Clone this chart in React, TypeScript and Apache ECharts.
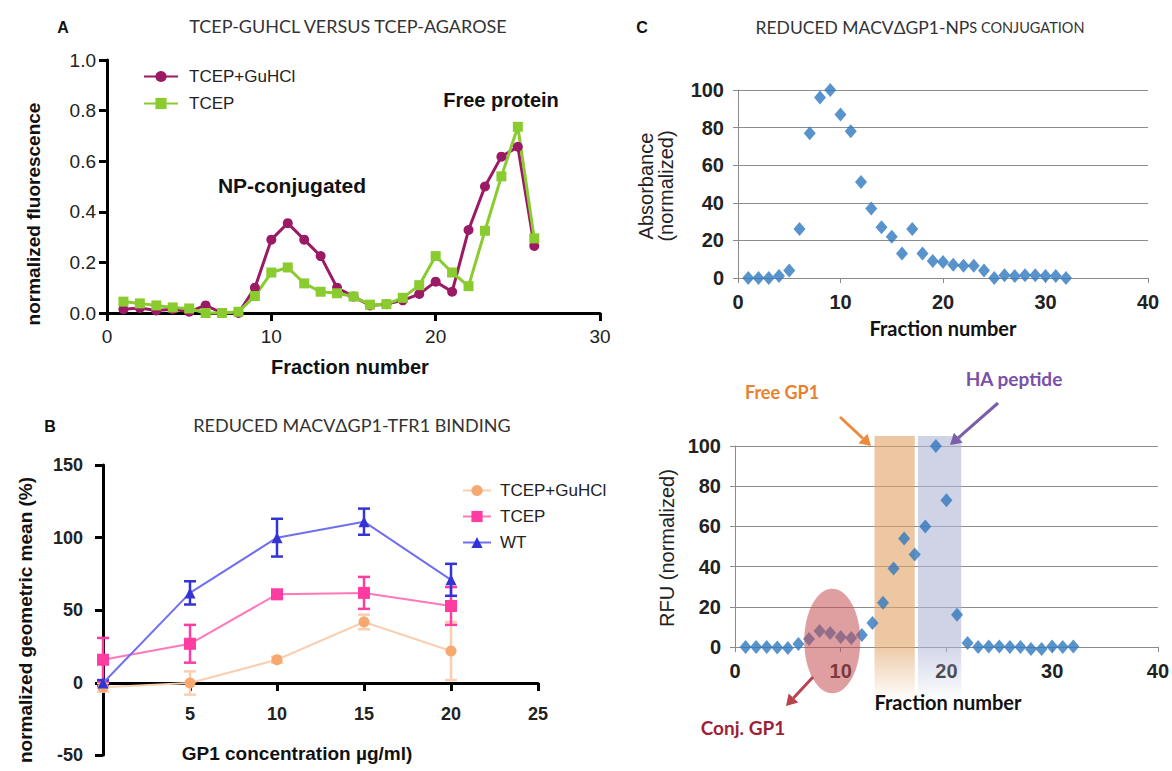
import React, { useEffect, useRef } from "react";
import * as echarts from "echarts";

// ---------- Panel A ----------
const fractionsA = [1, 2, 3, 4, 5, 6, 7, 8, 9, 10, 11, 12, 13, 14, 15, 16, 17, 18, 19, 20, 21, 22, 23, 24, 25, 26];
const tcepGuhclA = [0.015, 0.02, 0.01, 0.015, 0.005, 0.03, 0.0, 0.0, 0.1, 0.29, 0.355, 0.29, 0.225, 0.1, 0.065, 0.03, 0.035, 0.05, 0.075, 0.124, 0.084, 0.328, 0.5, 0.618, 0.657, 0.265];
const tcepA = [0.045, 0.038, 0.03, 0.022, 0.018, 0.0, 0.0, 0.005, 0.067, 0.16, 0.18, 0.117, 0.084, 0.078, 0.065, 0.033, 0.035, 0.06, 0.11, 0.225, 0.16, 0.106, 0.325, 0.54, 0.736, 0.295];

// ---------- Panel B ----------
const concB = [0, 5, 10, 15, 20];
const wtMean = [0, 62, 100, 111, 71];
const wtErr = [2, 8, 13, 9, 11];
const tcepMean = [16, 27, 61, 62, 53];
const tcepErr = [15, 13, 3, 11, 13];
const guhclMean = [-3, 0, 16, 42, 22];
const guhclErr = [3, 8, 2, 5, 20];

// ---------- Panel C ----------
const fractionsC = [1, 2, 3, 4, 5, 6, 7, 8, 9, 10, 11, 12, 13, 14, 15, 16, 17, 18, 19, 20, 21, 22, 23, 24, 25, 26, 27, 28, 29, 30, 31, 32];
const absorbanceC = [0, 0, 0, 1, 4, 26, 77, 96, 100, 87, 78, 51, 37, 27, 22, 13, 26, 13, 9, 8.5, 7, 6.5, 6.5, 4, 0, 1.5, 1, 1.5, 1.5, 1, 1, 0];
const rfuC = [0, 0, 0, -0.3, -0.5, 1.5, 4, 8, 7, 5, 4.5, 6, 12, 22, 39, 54, 46, 60, 100, 73, 16, 2, 0, 0.3, 0.3, 0, 0, -1, -1, 0.3, 0, 0.3];
const freeGp1Band = [13.2, 17.0];
const haPeptideBand = [17.3, 21.4];
const bandYRange = [105, -27];
const conjEllipse = { cx: 9.2, cy: 3, rx: 2.65, ry: 26 };

const SANS = "Liberation Sans, Arial, sans-serif";
const CAL = "Lato, Liberation Sans, sans-serif";

const COL_A_MAG = "#9b1a66";
const COL_A_GRN = "#8acc30";
const COL_B_WT = "#3434d6";
const COL_B_WT_L = "#7070ee";
const COL_B_TC = "#ff3ca2";
const COL_B_TC_L = "#ff78bb";
const COL_B_GU = "#f6a86e";
const COL_B_GU_L = "#f9cfb2";
const COL_C = "#2f78be";

function errSeries(name: string, means: number[], errs: number[], color: string) {
  return {
    type: "custom",
    name,
    xAxisIndex: 1,
    yAxisIndex: 1,
    clip: false,
    z: 3,
    data: concB.map((x, i) => [x, means[i] - errs[i], means[i] + errs[i]]),
    encode: { x: 0, y: [1, 2] },
    renderItem: (params: any, api: any) => {
      const x = api.value(0);
      const lo = api.coord([x, api.value(1)]);
      const hi = api.coord([x, api.value(2)]);
      const cap = 6;
      const style = { stroke: color, lineWidth: 2.5 };
      return {
        type: "group",
        children: [
          { type: "line", shape: { x1: lo[0], y1: lo[1], x2: hi[0], y2: hi[1] }, style },
          { type: "line", shape: { x1: lo[0] - cap, y1: lo[1], x2: lo[0] + cap, y2: lo[1] }, style },
          { type: "line", shape: { x1: hi[0] - cap, y1: hi[1], x2: hi[0] + cap, y2: hi[1] }, style },
        ],
      };
    },
  };
}

function blackAxis(extra: any) {
  return {
    type: "value",
    axisLine: { show: true, onZero: false, lineStyle: { color: "#000", width: 3 } },
    axisTick: { show: true, length: 8, lineStyle: { color: "#000", width: 3 } },
    splitLine: { show: false },
    ...extra,
  };
}

function grayXAxis(extra: any) {
  return {
    type: "value",
    min: 0,
    max: 40,
    interval: 10,
    axisLine: { show: true, lineStyle: { color: "#8a8a8a", width: 1 } },
    axisTick: { show: true, length: 5, lineStyle: { color: "#8a8a8a" } },
    axisLabel: { fontSize: 20, fontWeight: "bold", color: "#222", fontFamily: SANS, margin: 14 },
    splitLine: { show: false },
    ...extra,
  };
}
function grayYAxis(extra: any) {
  return {
    type: "value",
    min: 0,
    max: 100,
    interval: 20,
    axisLine: { show: true, lineStyle: { color: "#8a8a8a", width: 1 } },
    axisTick: { show: true, length: 5, lineStyle: { color: "#8a8a8a" } },
    axisLabel: { fontSize: 20, fontWeight: "bold", color: "#222", fontFamily: SANS, margin: 14 },
    splitLine: { show: true, lineStyle: { color: "#8c8c8c", width: 1 } },
    ...extra,
  };
}

function txt(text: string, x: number, y: number, font: string, fill: string, rotation = 0, z = 30) {
  return {
    type: "text",
    x,
    y,
    rotation,
    z,
    style: { text, font, fill, align: "center", verticalAlign: "middle", textAlign: "center", textVerticalAlign: "middle" },
  };
}

function arrow(x1: number, y1: number, x2: number, y2: number, color: string) {
  const head = 11;
  const ang = Math.atan2(y2 - y1, x2 - x1);
  const bx = x2 - head * Math.cos(ang);
  const by = y2 - head * Math.sin(ang);
  const px = -Math.sin(ang) * head * 0.6;
  const py = Math.cos(ang) * head * 0.6;
  return [
    { type: "line", z: 25, shape: { x1, y1, x2: bx, y2: by }, style: { stroke: color, lineWidth: 3 } },
    { type: "polygon", z: 25, shape: { points: [[x2, y2], [bx + px, by + py], [bx - px, by - py]] }, style: { fill: color } },
  ];
}

export default function App() {
  const ref = useRef<HTMLDivElement>(null);
  useEffect(() => {
    document.body.style.margin = "0";
    const chart = echarts.init(ref.current!, null, { renderer: "svg" });
    const option: any = {
      animation: false,
      backgroundColor: "#fff",
      grid: [
        { left: 107, top: 60, width: 493, height: 253 },
        { left: 103, top: 465, width: 435, height: 218 },
        { left: 738, top: 90, width: 410, height: 188 },
        { left: 735, top: 446, width: 423, height: 201 },
        { left: 103, top: 683, width: 435, height: 72 },
      ],
      xAxis: [
        blackAxis({
          gridIndex: 0, min: 0, max: 30, interval: 10,
          axisLabel: { fontSize: 19, color: "#222", fontFamily: SANS, margin: 14 },
        }),
        blackAxis({
          gridIndex: 1, min: 0, max: 25, interval: 5,
          axisLabel: { fontSize: 18, fontWeight: "bold", color: "#222", fontFamily: SANS, margin: 22, showMinLabel: false },
        }),
        grayXAxis({ gridIndex: 2 }),
        grayXAxis({ gridIndex: 3 }),
        {
          type: "value", gridIndex: 4, min: 0, max: 25, show: false,
        },
      ],
      yAxis: [
        blackAxis({
          gridIndex: 0, min: 0, max: 1, interval: 0.2,
          axisLabel: { fontSize: 19, color: "#222", fontFamily: SANS, margin: 11, formatter: (v: number) => v.toFixed(1) },
        }),
        blackAxis({
          gridIndex: 1, min: 0, max: 150, interval: 50,
          axisLabel: { fontSize: 18, fontWeight: "bold", color: "#222", fontFamily: SANS, margin: 20 },
        }),
        grayYAxis({ gridIndex: 2 }),
        grayYAxis({ gridIndex: 3 }),
        blackAxis({
          gridIndex: 4, min: -50, max: 0, interval: 50,
          axisLabel: { fontSize: 18, fontWeight: "bold", color: "#222", fontFamily: SANS, margin: 20, showMaxLabel: false },
        }),
      ],
      legend: [
        {
          data: ["A|TCEP+GuHCl", "A|TCEP"],
          orient: "vertical",
          left: 138,
          top: 63,
          itemWidth: 34,
          itemHeight: 14,
          itemGap: 10,
          selectedMode: false,
          formatter: (n: string) => n.split("|")[1],
          textStyle: { fontSize: 17, color: "#222", fontFamily: SANS, padding: [0, 0, 0, 6] },
        },
        {
          data: ["B|TCEP+GuHCl", "B|TCEP", "B|WT"],
          orient: "vertical",
          left: 457,
          top: 477,
          itemWidth: 28,
          itemHeight: 14,
          itemGap: 9,
          selectedMode: false,
          formatter: (n: string) => n.split("|")[1],
          textStyle: { fontSize: 17, color: "#222", fontFamily: SANS, padding: [0, 0, 0, 4] },
        },
      ],
      series: [
        {
          type: "line", name: "A|TCEP+GuHCl", xAxisIndex: 0, yAxisIndex: 0, clip: false,
          data: fractionsA.map((x, i) => [x, tcepGuhclA[i]]),
          symbol: "circle", symbolSize: 10,
          lineStyle: { color: COL_A_MAG, width: 3 }, itemStyle: { color: COL_A_MAG },
        },
        {
          type: "line", name: "A|TCEP", xAxisIndex: 0, yAxisIndex: 0, clip: false,
          data: fractionsA.map((x, i) => [x, tcepA[i]]),
          symbol: "rect", symbolSize: 10,
          lineStyle: { color: COL_A_GRN, width: 3 }, itemStyle: { color: COL_A_GRN },
        },
        errSeries("errGu", guhclMean, guhclErr, COL_B_GU_L),
        {
          type: "line", name: "B|TCEP+GuHCl", xAxisIndex: 1, yAxisIndex: 1, clip: false, z: 4,
          data: concB.map((x, i) => [x, guhclMean[i]]),
          symbol: "circle", symbolSize: 11,
          lineStyle: { color: COL_B_GU_L, width: 2 }, itemStyle: { color: COL_B_GU },
        },
        errSeries("errTc", tcepMean, tcepErr, COL_B_TC),
        {
          type: "line", name: "B|TCEP", xAxisIndex: 1, yAxisIndex: 1, clip: false, z: 4,
          data: concB.map((x, i) => [x, tcepMean[i]]),
          symbol: "rect", symbolSize: 12,
          lineStyle: { color: COL_B_TC_L, width: 2 }, itemStyle: { color: COL_B_TC },
        },
        errSeries("errWt", wtMean, wtErr, COL_B_WT),
        {
          type: "line", name: "B|WT", xAxisIndex: 1, yAxisIndex: 1, clip: false, z: 4,
          data: concB.map((x, i) => [x, wtMean[i]]),
          symbol: "triangle", symbolSize: 11,
          lineStyle: { color: COL_B_WT_L, width: 2 }, itemStyle: { color: COL_B_WT },
        },
        {
          type: "scatter", name: "Absorbance", xAxisIndex: 2, yAxisIndex: 2, clip: false,
          data: fractionsC.map((x, i) => [x, absorbanceC[i]]),
          symbol: "diamond", symbolSize: [12, 14], itemStyle: { color: COL_C },
        },
        {
          type: "scatter", name: "RFU", xAxisIndex: 3, yAxisIndex: 3, clip: false,
          data: fractionsC.map((x, i) => [x, rfuC[i]]),
          symbol: "diamond", symbolSize: [12, 14], itemStyle: { color: COL_C },
        },
      ],
    };
    chart.setOption(option);

    const p = (x: number, y: number) => chart.convertToPixel({ xAxisIndex: 3, yAxisIndex: 3 }, [x, y]) as number[];
    const bandRect = (range: number[], rgb: string) => {
      const a = p(range[0], bandYRange[0]);
      const b = p(range[1], bandYRange[1]);
      return {
        type: "rect",
        z: 1,
        shape: { x: a[0], y: a[1], width: b[0] - a[0], height: b[1] - a[1] },
        style: {
          fill: new echarts.graphic.LinearGradient(0, 0, 0, 1, [
            { offset: 0, color: `rgba(${rgb},0.6)` },
            { offset: 0.78, color: `rgba(${rgb},0.6)` },
            { offset: 1, color: `rgba(${rgb},0)` },
          ]),
        },
      };
    };
    const ec = p(conjEllipse.cx, conjEllipse.cy);
    const er = p(conjEllipse.cx + conjEllipse.rx, conjEllipse.cy + conjEllipse.ry);

    const elements: any[] = [
      bandRect(freeGp1Band, "226,160,100"),
      bandRect(haPeptideBand, "176,182,214"),
      {
        type: "ellipse",
        z: 20,
        shape: { cx: ec[0], cy: ec[1], rx: er[0] - ec[0], ry: ec[1] - er[1] },
        style: { fill: "rgba(196,80,84,0.55)" },
      },
      ...arrow(840, 417, 871, 446, "#ee8a3c"),
      ...arrow(998, 403, 950, 445, "#7b5ea7"),
      ...arrow(813, 677, 786, 706, "#b8434f"),
      txt("Free GP1", 782, 392, `bold 18px ${CAL}`, "#e8822e"),
      txt("HA peptide", 1014, 378, `bold 19px ${CAL}`, "#7a50a8"),
      txt("Conj. GP1", 743, 727, `bold 19px ${CAL}`, "#9e1f3a"),
      // panel letters
      txt("A", 63, 27, `bold 16px ${SANS}`, "#111"),
      txt("B", 50, 426, `bold 16px ${SANS}`, "#111"),
      txt("C", 642, 27, `bold 16px ${SANS}`, "#111"),
      // titles
      txt("TCEP-GUHCL VERSUS TCEP-AGAROSE", 348, 26, `18px ${CAL}`, "#333"),
      txt("REDUCED MACVΔGP1-TFR1 BINDING", 352, 425, `18px ${CAL}`, "#333"),
      {
        type: "text",
        x: 920,
        y: 27,
        z: 30,
        style: {
          text: "{a|REDUCED MACVΔGP1-NP}{b|S CONJUGATION}",
          align: "center",
          verticalAlign: "middle",
          textAlign: "center",
          textVerticalAlign: "middle",
          rich: {
            a: { font: `17.5px ${CAL}`, fill: "#333", color: "#333" },
            b: { font: `14.5px ${CAL}`, fill: "#333", color: "#333" },
          },
        },
      },
      // panel A annotations
      txt("NP-conjugated", 292, 185, `bold 21px ${SANS}`, "#111"),
      txt("Free protein", 501, 100, `bold 20px ${SANS}`, "#111"),
      // axis names
      txt("normalized fluorescence", 33, 214, `bold 19px ${SANS}`, "#111", Math.PI / 2),
      txt("Fraction number", 350, 367, `bold 20px ${SANS}`, "#111"),
      txt("normalized geometric mean (%)", 25, 620, `bold 19px ${SANS}`, "#111", Math.PI / 2),
      txt("GP1 concentration µg/ml)", 297, 753, `bold 19px ${SANS}`, "#111"),
      txt("Absorbance", 646, 186, `20px ${SANS}`, "#222", Math.PI / 2),
      txt("(normalized)", 666, 186, `20px ${SANS}`, "#222", Math.PI / 2),
      txt("Fraction number", 943, 328, `bold 20px ${CAL}`, "#111"),
      txt("RFU (normalized)", 667, 548, `20px ${SANS}`, "#222", Math.PI / 2),
      txt("Fraction number", 948, 702, `bold 20px ${CAL}`, "#111"),
    ];
    chart.setOption({ graphic: { elements } });
    return () => chart.dispose();
  }, []);
  return <div ref={ref} style={{ width: 1172, height: 771 }} />;
}
